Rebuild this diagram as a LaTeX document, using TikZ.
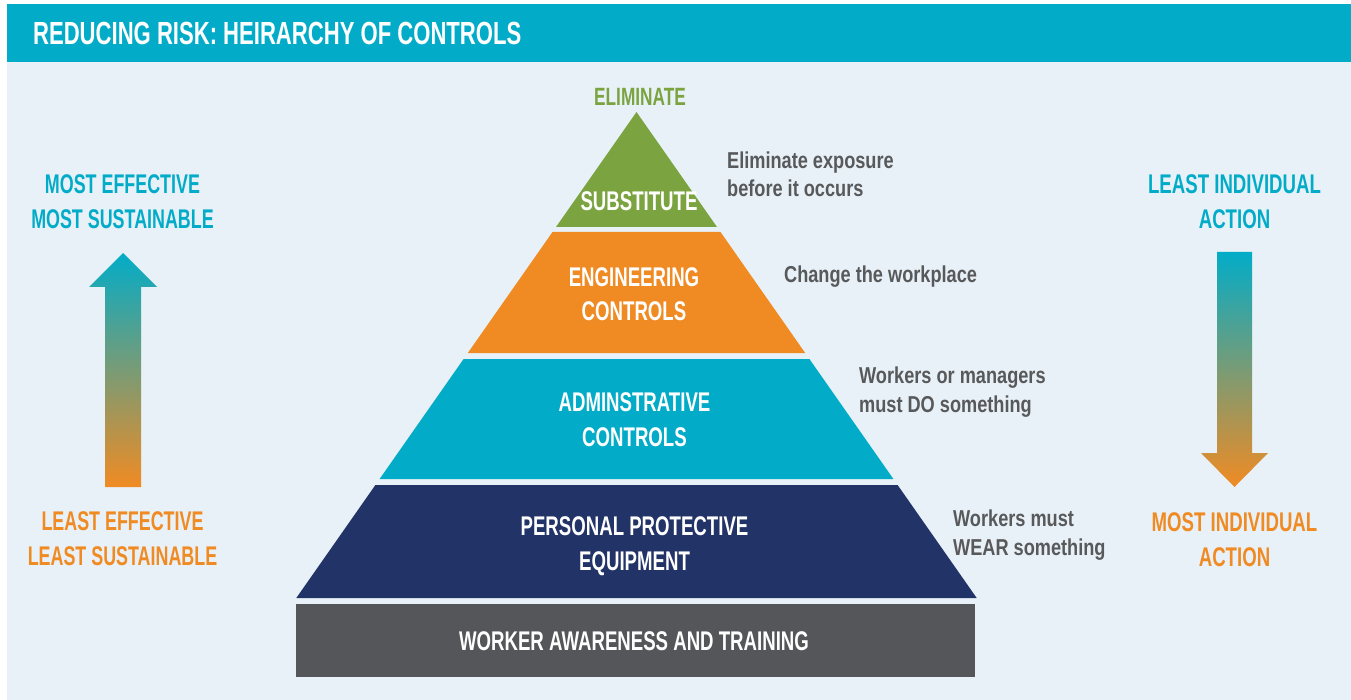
\documentclass[tikz,border=0pt]{standalone}
\usepackage{fontspec}
\setmainfont{Liberation Sans}

\definecolor{bgblue}{HTML}{E8F1F7}
\definecolor{barblue}{HTML}{02ACC8}
\definecolor{leafgreen}{HTML}{7BA441}
\definecolor{safeorange}{HTML}{F08B23}
\definecolor{deepnavy}{HTML}{223367}
\definecolor{slate}{HTML}{555659}
\definecolor{notegray}{HTML}{58595B}

\tikzset{
  caps/.style={font=\bfseries\fontsize{27}{35}\selectfont, xscale=0.69,
    align=center, anchor=base, inner sep=0pt},
  note/.style={font=\bfseries\fontsize{23}{28.5}\selectfont, xscale=0.79,
    align=left, anchor=base west, inner sep=0pt, text=notegray}
}

\begin{document}
\begin{tikzpicture}[x=1pt, y=-1pt]
  \useasboundingbox (0,0) rectangle (1351,700);
  \fill[white] (0,0) rectangle (1351,700);
  \fill[bgblue] (7,4) rectangle (1351,700);
  \fill[barblue] (7,4) rectangle (1351,62);
  \node[caps, anchor=base west, text=white, font=\bfseries\fontsize{32}{36}\selectfont]
    (title) at (33,45) {REDUCING RISK: HEIRARCHY OF CONTROLS};

  % pyramid, top to bottom
  \fill[leafgreen] (636.5,112) -- (717,227) -- (556,227) -- cycle;
  \fill[safeorange] (552.5,232) -- (720.5,232) -- (805.2,353) -- (467.8,353) -- cycle;
  \fill[barblue] (463.6,359) -- (809.4,359) -- (893.4,479) -- (379.6,479) -- cycle;
  \fill[deepnavy] (375.4,485) -- (897.6,485) -- (976.7,598) -- (296.3,598) -- cycle;
  \fill[slate] (296,604) rectangle (975,677);

  % base sits on the last line of each label
  \node[caps, text=leafgreen, font=\bfseries\fontsize{25}{30}\selectfont]
    (elim) at (640,106) {ELIMINATE};
  \node[caps, text=white] (subst) at (639,211) {SUBSTITUTE};
  \node[caps, text=white] (eng) at (634,321) {ENGINEERING\\CONTROLS};
  \node[caps, text=white] (admin) at (634.5,446) {ADMINSTRATIVE\\CONTROLS};
  \node[caps, text=white] (ppe) at (634.5,570) {PERSONAL PROTECTIVE\\EQUIPMENT};
  \node[caps, text=white] (train) at (634,650) {WORKER AWARENESS AND TRAINING};

  \node[note] (elimnote) at (727,197) {Eliminate exposure\\before it occurs};
  \node[note] (engnote) at (784,283) {Change the workplace};
  \node[note] (adminnote) at (859,412) {Workers or managers\\must DO something};
  \node[note] (ppenote) at (953,555) {Workers must\\WEAR something};

  % side scales
  \node[caps, text=barblue, xscale=0.96] (effhigh) at (122.5,229) {MOST EFFECTIVE\\MOST SUSTAINABLE};
  \node[caps, text=safeorange, xscale=0.96] (efflow) at (122.5,565) {LEAST EFFECTIVE\\LEAST SUSTAINABLE};
  \node[caps, text=barblue] (actlow) at (1234.5,229) {LEAST INDIVIDUAL\\ACTION};
  \node[caps, text=safeorange] (acthigh) at (1234.5,566) {MOST INDIVIDUAL\\ACTION};

  \shade[top color=barblue, bottom color=safeorange]
    (105,487) -- (105,287) -- (89,287) -- (123,253) -- (157,287) -- (141,287) -- (141,487) -- cycle;
  \shade[top color=barblue, bottom color=safeorange]
    (1217,252) -- (1252,252) -- (1252,453) -- (1268,453) -- (1234.5,487) -- (1201,453) -- (1217,453) -- cycle;
\end{tikzpicture}
\end{document}
